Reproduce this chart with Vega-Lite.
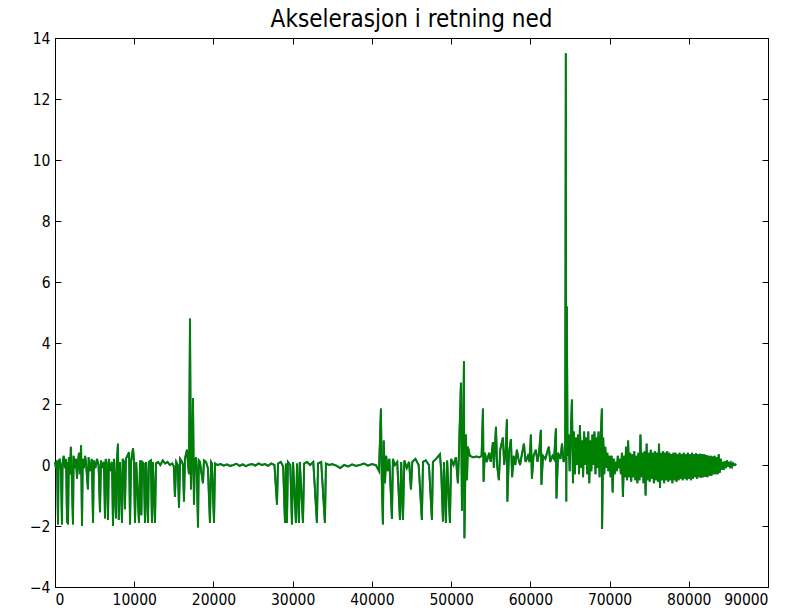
{
  "$schema": "https://vega.github.io/schema/vega-lite/v6.json",
  "width": 713,
  "height": 549,
  "autosize": "none",
  "padding": {"left": 55, "top": 38, "right": 34, "bottom": 24},
  "background": "white",
  "title": {"text": "Akselerasjon i retning ned", "font": "DejaVu Sans Condensed", "fontSize": 24, "fontWeight": "normal", "color": "black", "offset": -1},
  "config": {
    "view": {"stroke": null},
    "axis": {"grid": false, "domainColor": "black", "tickColor": "black", "labelColor": "black", "labelFont": "DejaVu Sans Condensed", "labelFontSize": 15.5, "tickSize": -6, "labelPadding": 11, "domainWidth": 1, "tickWidth": 1, "title": null}
  },
  "data": {"values": [
{"t":0,"a":0.1},{"t":120,"a":-0.1},{"t":250,"a":0.15},{"t":380,"a":-1.95},{"t":450,"a":0.1},{"t":600,"a":0.2},{"t":750,"a":-0.2},{"t":880,"a":-1.95},{"t":950,"a":0.05},{"t":1100,"a":0.3},{"t":1250,"a":-0.1},{"t":1400,"a":0.2},{"t":1520,"a":-1.9},{"t":1600,"a":0.1},{"t":1640,"a":-1.95},{"t":1750,"a":0.25},{"t":1900,"a":-0.3},{"t":2000,"a":0.6},{"t":2100,"a":-0.2},{"t":2270,"a":-1.95},{"t":2350,"a":0.3},{"t":2500,"a":-0.1},{"t":2650,"a":0.2},{"t":2780,"a":-0.45},{"t":2900,"a":0.1},{"t":3030,"a":0.4},{"t":3150,"a":-0.3},{"t":3290,"a":0.65},{"t":3410,"a":-2.0},{"t":3500,"a":0.2},{"t":3650,"a":-0.1},{"t":3800,"a":0.3},{"t":3900,"a":0.1},{"t":4160,"a":-0.8},{"t":4250,"a":0.25},{"t":4400,"a":-0.2},{"t":4650,"a":0.2},{"t":4800,"a":-1.9},{"t":4900,"a":0.15},{"t":5100,"a":-0.1},{"t":5300,"a":0.2},{"t":5500,"a":0.0},{"t":5680,"a":-1.55},{"t":5800,"a":0.15},{"t":6000,"a":-0.1},{"t":6180,"a":0.1},{"t":6310,"a":-1.75},{"t":6400,"a":0.2},{"t":6550,"a":0.0},{"t":6690,"a":-1.8},{"t":6800,"a":0.2},{"t":7000,"a":-0.2},{"t":7200,"a":0.1},{"t":7320,"a":-2.0},{"t":7450,"a":0.2},{"t":7700,"a":-1.75},{"t":7800,"a":0.1},{"t":7950,"a":0.7},{"t":8050,"a":-1.8},{"t":8200,"a":0.1},{"t":8460,"a":-1.9},{"t":8550,"a":0.2},{"t":8700,"a":0.1},{"t":8830,"a":-1.45},{"t":8950,"a":0.2},{"t":9350,"a":0.42},{"t":9470,"a":-1.95},{"t":9600,"a":0.1},{"t":9850,"a":0.55},{"t":9950,"a":0.2},{"t":10100,"a":-1.9},{"t":10250,"a":0.1},{"t":10600,"a":-1.9},{"t":10730,"a":0.15},{"t":10900,"a":-1.65},{"t":11000,"a":0.1},{"t":11200,"a":0.05},{"t":11360,"a":-1.9},{"t":11500,"a":0.1},{"t":11740,"a":-1.9},{"t":11850,"a":0.1},{"t":12100,"a":0.15},{"t":12240,"a":-1.9},{"t":12350,"a":0.1},{"t":12620,"a":-1.9},{"t":12750,"a":0.05},{"t":13000,"a":0.1},{"t":13300,"a":0.0},{"t":13600,"a":0.15},{"t":13900,"a":0.05},{"t":14200,"a":0.1},{"t":14500,"a":0.0},{"t":14800,"a":0.05},{"t":15000,"a":-0.05},{"t":15140,"a":-1.05},{"t":15300,"a":0.1},{"t":15500,"a":0.0},{"t":15650,"a":-1.4},{"t":15800,"a":0.2},{"t":16030,"a":0.1},{"t":16150,"a":0.0},{"t":16280,"a":-1.2},{"t":16400,"a":0.2},{"t":16660,"a":0.5},{"t":16800,"a":0.0},{"t":16910,"a":-0.3},{"t":17040,"a":4.8},{"t":17160,"a":-0.8},{"t":17290,"a":0.3},{"t":17420,"a":2.2},{"t":17540,"a":-1.3},{"t":17650,"a":0.1},{"t":17790,"a":0.25},{"t":17900,"a":-0.2},{"t":18050,"a":-2.05},{"t":18150,"a":0.15},{"t":18300,"a":0.1},{"t":18450,"a":-0.2},{"t":18680,"a":-0.6},{"t":18800,"a":0.15},{"t":19060,"a":0.1},{"t":19300,"a":-0.1},{"t":19560,"a":-1.9},{"t":19700,"a":0.1},{"t":19810,"a":0.05},{"t":20070,"a":-1.9},{"t":20200,"a":0.05},{"t":20500,"a":0.0},{"t":20900,"a":0.03},{"t":21300,"a":-0.02},{"t":21700,"a":0.02},{"t":22100,"a":-0.03},{"t":22500,"a":0.0},{"t":22900,"a":0.04},{"t":23300,"a":-0.03},{"t":23700,"a":0.02},{"t":24100,"a":-0.04},{"t":24500,"a":0.01},{"t":24900,"a":0.03},{"t":25300,"a":-0.02},{"t":25700,"a":0.05},{"t":26100,"a":0.0},{"t":26500,"a":0.03},{"t":26900,"a":-0.03},{"t":27300,"a":0.05},{"t":27700,"a":0.0},{"t":28020,"a":-1.3},{"t":28150,"a":0.05},{"t":28500,"a":0.1},{"t":28800,"a":-0.05},{"t":29030,"a":-1.9},{"t":29150,"a":0.05},{"t":29280,"a":-1.9},{"t":29400,"a":0.1},{"t":29700,"a":0.0},{"t":29910,"a":-1.95},{"t":30050,"a":0.1},{"t":30410,"a":-1.9},{"t":30550,"a":0.05},{"t":30790,"a":-1.9},{"t":30900,"a":0.1},{"t":31300,"a":-1.9},{"t":31450,"a":0.05},{"t":31800,"a":0.1},{"t":32200,"a":0.0},{"t":32600,"a":0.1},{"t":33060,"a":-1.9},{"t":33200,"a":0.05},{"t":33600,"a":0.1},{"t":34070,"a":-1.9},{"t":34200,"a":0.05},{"t":34600,"a":0.0},{"t":35000,"a":0.03},{"t":35500,"a":-0.02},{"t":36000,"a":-0.1},{"t":36500,"a":0.0},{"t":37000,"a":-0.05},{"t":37500,"a":0.02},{"t":38000,"a":-0.03},{"t":38500,"a":0.0},{"t":39000,"a":0.05},{"t":39500,"a":-0.02},{"t":40000,"a":0.03},{"t":40500,"a":0.0},{"t":40900,"a":-0.2},{"t":41140,"a":1.85},{"t":41250,"a":-0.5},{"t":41390,"a":-1.95},{"t":41500,"a":0.8},{"t":41650,"a":-0.6},{"t":41800,"a":0.3},{"t":42000,"a":-0.2},{"t":42200,"a":0.2},{"t":42530,"a":-1.77},{"t":42650,"a":0.2},{"t":42900,"a":0.0},{"t":43200,"a":0.1},{"t":43540,"a":-1.8},{"t":43700,"a":0.1},{"t":43920,"a":-1.8},{"t":44100,"a":0.15},{"t":44400,"a":-0.1},{"t":44700,"a":0.1},{"t":44930,"a":-0.8},{"t":45100,"a":0.1},{"t":45500,"a":0.2},{"t":45900,"a":0.0},{"t":46310,"a":-1.8},{"t":46450,"a":0.1},{"t":46800,"a":0.15},{"t":47200,"a":0.0},{"t":47580,"a":-1.8},{"t":47700,"a":0.1},{"t":48100,"a":0.2},{"t":48590,"a":0.35},{"t":48750,"a":-0.2},{"t":48970,"a":-1.85},{"t":49100,"a":0.1},{"t":49340,"a":-1.9},{"t":49500,"a":0.15},{"t":49850,"a":-1.9},{"t":50000,"a":0.2},{"t":50300,"a":0.0},{"t":50600,"a":0.25},{"t":50860,"a":-0.6},{"t":51000,"a":0.5},{"t":51240,"a":2.7},{"t":51370,"a":-1.5},{"t":51500,"a":0.8},{"t":51620,"a":3.4},{"t":51680,"a":-2.4},{"t":51870,"a":1.0},{"t":52000,"a":-0.5},{"t":52120,"a":0.6},{"t":52370,"a":0.3},{"t":52800,"a":0.25},{"t":53200,"a":0.28},{"t":53600,"a":0.25},{"t":53850,"a":0.3},{"t":54020,"a":1.85},{"t":54100,"a":-0.55},{"t":54250,"a":0.4},{"t":54500,"a":0.1},{"t":54800,"a":0.4},{"t":55000,"a":0.1},{"t":55280,"a":0.75},{"t":55400,"a":-0.1},{"t":55660,"a":1.25},{"t":55800,"a":0.0},{"t":56030,"a":-0.5},{"t":56200,"a":0.5},{"t":56540,"a":0.9},{"t":56700,"a":0.0},{"t":56900,"a":0.5},{"t":57040,"a":1.5},{"t":57100,"a":-1.2},{"t":57300,"a":0.4},{"t":57550,"a":0.85},{"t":57700,"a":-0.4},{"t":57900,"a":0.3},{"t":58100,"a":0.0},{"t":58300,"a":0.5},{"t":58500,"a":0.2},{"t":58700,"a":0.0},{"t":58900,"a":0.3},{"t":59190,"a":0.7},{"t":59400,"a":0.1},{"t":59700,"a":0.3},{"t":59900,"a":0.1},{"t":60070,"a":1.0},{"t":60200,"a":-0.45},{"t":60400,"a":0.3},{"t":60700,"a":0.5},{"t":60900,"a":0.1},{"t":61100,"a":0.4},{"t":61330,"a":1.15},{"t":61400,"a":-0.65},{"t":61600,"a":0.3},{"t":61900,"a":0.2},{"t":62100,"a":0.4},{"t":62340,"a":0.6},{"t":62500,"a":0.1},{"t":62800,"a":0.3},{"t":63000,"a":0.2},{"t":63230,"a":1.2},{"t":63300,"a":-1.1},{"t":63500,"a":0.4},{"t":63800,"a":0.2},{"t":64000,"a":0.7},{"t":64200,"a":0.1},{"t":64400,"a":0.3},{"t":64480,"a":13.5},{"t":64540,"a":-1.2},{"t":64610,"a":5.2},{"t":64700,"a":0.3},{"t":64830,"a":1.0},{"t":64960,"a":-0.2},{"t":65090,"a":0.9},{"t":65250,"a":2.15},{"t":65380,"a":-0.6},{"t":65500,"a":1.1},{"t":65630,"a":-0.3},{"t":65760,"a":0.9},{"t":65890,"a":0.0},{"t":66020,"a":1.0},{"t":66150,"a":-0.3},{"t":66260,"a":1.3},{"t":66400,"a":-0.1},{"t":66530,"a":0.8},{"t":66660,"a":-0.4},{"t":66790,"a":1.1},{"t":66920,"a":0.0},{"t":67050,"a":0.9},{"t":67180,"a":-0.3},{"t":67310,"a":1.1},{"t":67440,"a":-0.6},{"t":67570,"a":0.8},{"t":67700,"a":-0.2},{"t":67830,"a":1.0},{"t":67960,"a":0.0},{"t":68090,"a":1.1},{"t":68220,"a":-0.3},{"t":68350,"a":0.9},{"t":68480,"a":-0.1},{"t":68610,"a":1.1},{"t":68740,"a":-0.4},{"t":68870,"a":0.8},{"t":69030,"a":1.85},{"t":69060,"a":-2.1},{"t":69200,"a":0.9},{"t":69330,"a":-0.3},{"t":69460,"a":0.6},{"t":69590,"a":-0.1},{"t":69720,"a":0.4},{"t":69850,"a":-0.2},{"t":70000,"a":0.3},{"t":70130,"a":-0.4},{"t":70260,"a":0.3},{"t":70390,"a":-0.9},{"t":70520,"a":0.2},{"t":70650,"a":-0.3},{"t":70780,"a":0.1},{"t":70910,"a":-0.2},{"t":71040,"a":0.3},{"t":71170,"a":-0.1},{"t":71300,"a":0.2},{"t":71430,"a":-0.3},{"t":71560,"a":0.4},{"t":71690,"a":-1.05},{"t":71820,"a":0.3},{"t":71950,"a":-0.4},{"t":72080,"a":0.6},{"t":72210,"a":-0.5},{"t":72340,"a":0.8},{"t":72470,"a":-0.4},{"t":72600,"a":0.4},{"t":72730,"a":-0.55},{"t":72860,"a":0.35},{"t":72990,"a":-0.4},{"t":73120,"a":0.45},{"t":73250,"a":-0.5},{"t":73380,"a":0.3},{"t":73510,"a":-0.6},{"t":73640,"a":0.4},{"t":73770,"a":-0.5},{"t":73900,"a":1.0},{"t":74030,"a":-0.4},{"t":74160,"a":0.4},{"t":74290,"a":-0.6},{"t":74420,"a":0.45},{"t":74550,"a":-1.0},{"t":74680,"a":0.7},{"t":74810,"a":-0.5},{"t":74940,"a":0.4},{"t":75070,"a":-0.55},{"t":75200,"a":0.5},{"t":75330,"a":-0.45},{"t":75460,"a":0.4},{"t":75590,"a":-0.6},{"t":75720,"a":0.45},{"t":75850,"a":-0.5},{"t":75980,"a":0.4},{"t":76110,"a":-0.55},{"t":76240,"a":0.7},{"t":76370,"a":-0.75},{"t":76500,"a":0.4},{"t":76630,"a":-0.5},{"t":76760,"a":0.45},{"t":76890,"a":-0.6},{"t":77020,"a":0.4},{"t":77150,"a":-0.5},{"t":77280,"a":0.45},{"t":77410,"a":-0.55},{"t":77540,"a":0.4},{"t":77670,"a":-0.5},{"t":77800,"a":0.35},{"t":77930,"a":-0.6},{"t":78060,"a":0.4},{"t":78190,"a":-0.5},{"t":78320,"a":0.4},{"t":78450,"a":-0.55},{"t":78580,"a":0.35},{"t":78710,"a":-0.5},{"t":78840,"a":0.4},{"t":78970,"a":-0.45},{"t":79100,"a":0.35},{"t":79230,"a":-0.5},{"t":79360,"a":0.4},{"t":79490,"a":-0.45},{"t":79620,"a":0.35},{"t":79750,"a":-0.5},{"t":79880,"a":0.4},{"t":80010,"a":-0.45},{"t":80140,"a":0.35},{"t":80270,"a":-0.5},{"t":80400,"a":0.4},{"t":80530,"a":-0.45},{"t":80660,"a":0.35},{"t":80790,"a":-0.4},{"t":80920,"a":0.38},{"t":81050,"a":-0.45},{"t":81180,"a":0.35},{"t":81310,"a":-0.4},{"t":81440,"a":0.37},{"t":81570,"a":-0.42},{"t":81700,"a":0.35},{"t":81830,"a":-0.4},{"t":81960,"a":0.35},{"t":82090,"a":-0.38},{"t":82220,"a":0.33},{"t":82350,"a":-0.4},{"t":82480,"a":0.3},{"t":82610,"a":-0.35},{"t":82740,"a":0.3},{"t":82870,"a":-0.35},{"t":83000,"a":0.28},{"t":83130,"a":-0.3},{"t":83260,"a":0.3},{"t":83390,"a":-0.3},{"t":83520,"a":0.25},{"t":83650,"a":-0.3},{"t":83780,"a":0.35},{"t":83910,"a":-0.25},{"t":84040,"a":0.2},{"t":84170,"a":-0.15},{"t":84300,"a":0.1},{"t":84430,"a":-0.15},{"t":84560,"a":0.12},{"t":84690,"a":-0.1},{"t":84820,"a":0.15},{"t":84950,"a":-0.05},{"t":85080,"a":0.1},{"t":85210,"a":-0.1},{"t":85340,"a":0.05},{"t":85470,"a":-0.05},{"t":85600,"a":0.05},{"t":85730,"a":0.0},{"t":85860,"a":0.02},{"t":86000,"a":0.0}
  ]},
  "layer": [
    {
      "mark": {"type": "line", "color": "#2a5e8c", "strokeWidth": 2.0, "strokeJoin": "miter"},
      "encoding": {
        "x": {"field": "t", "type": "quantitative", "scale": {"domain": [0, 90000], "nice": false, "zero": false}, "axis": {"orient": "bottom", "values": [0,10000,20000,30000,40000,50000,60000,70000,80000,90000], "format": "d"}},
        "y": {"field": "a", "type": "quantitative", "scale": {"domain": [-4, 14], "nice": false, "zero": false}, "axis": {"orient": "left", "values": [-4,-2,0,2,4,6,8,10,12,14], "format": "d"}}
      }
    },
    {
      "mark": {"type": "line", "color": "#008000", "strokeWidth": 1.8, "strokeJoin": "miter"},
      "encoding": {
        "x": {"field": "t", "type": "quantitative", "axis": {"orient": "top", "labels": false, "values": [0,10000,20000,30000,40000,50000,60000,70000,80000,90000]}},
        "y": {"field": "a", "type": "quantitative", "axis": {"orient": "right", "labels": false, "values": [-4,-2,0,2,4,6,8,10,12,14]}}
      }
    }
  ],
  "resolve": {"axis": {"x": "independent", "y": "independent"}}
}
